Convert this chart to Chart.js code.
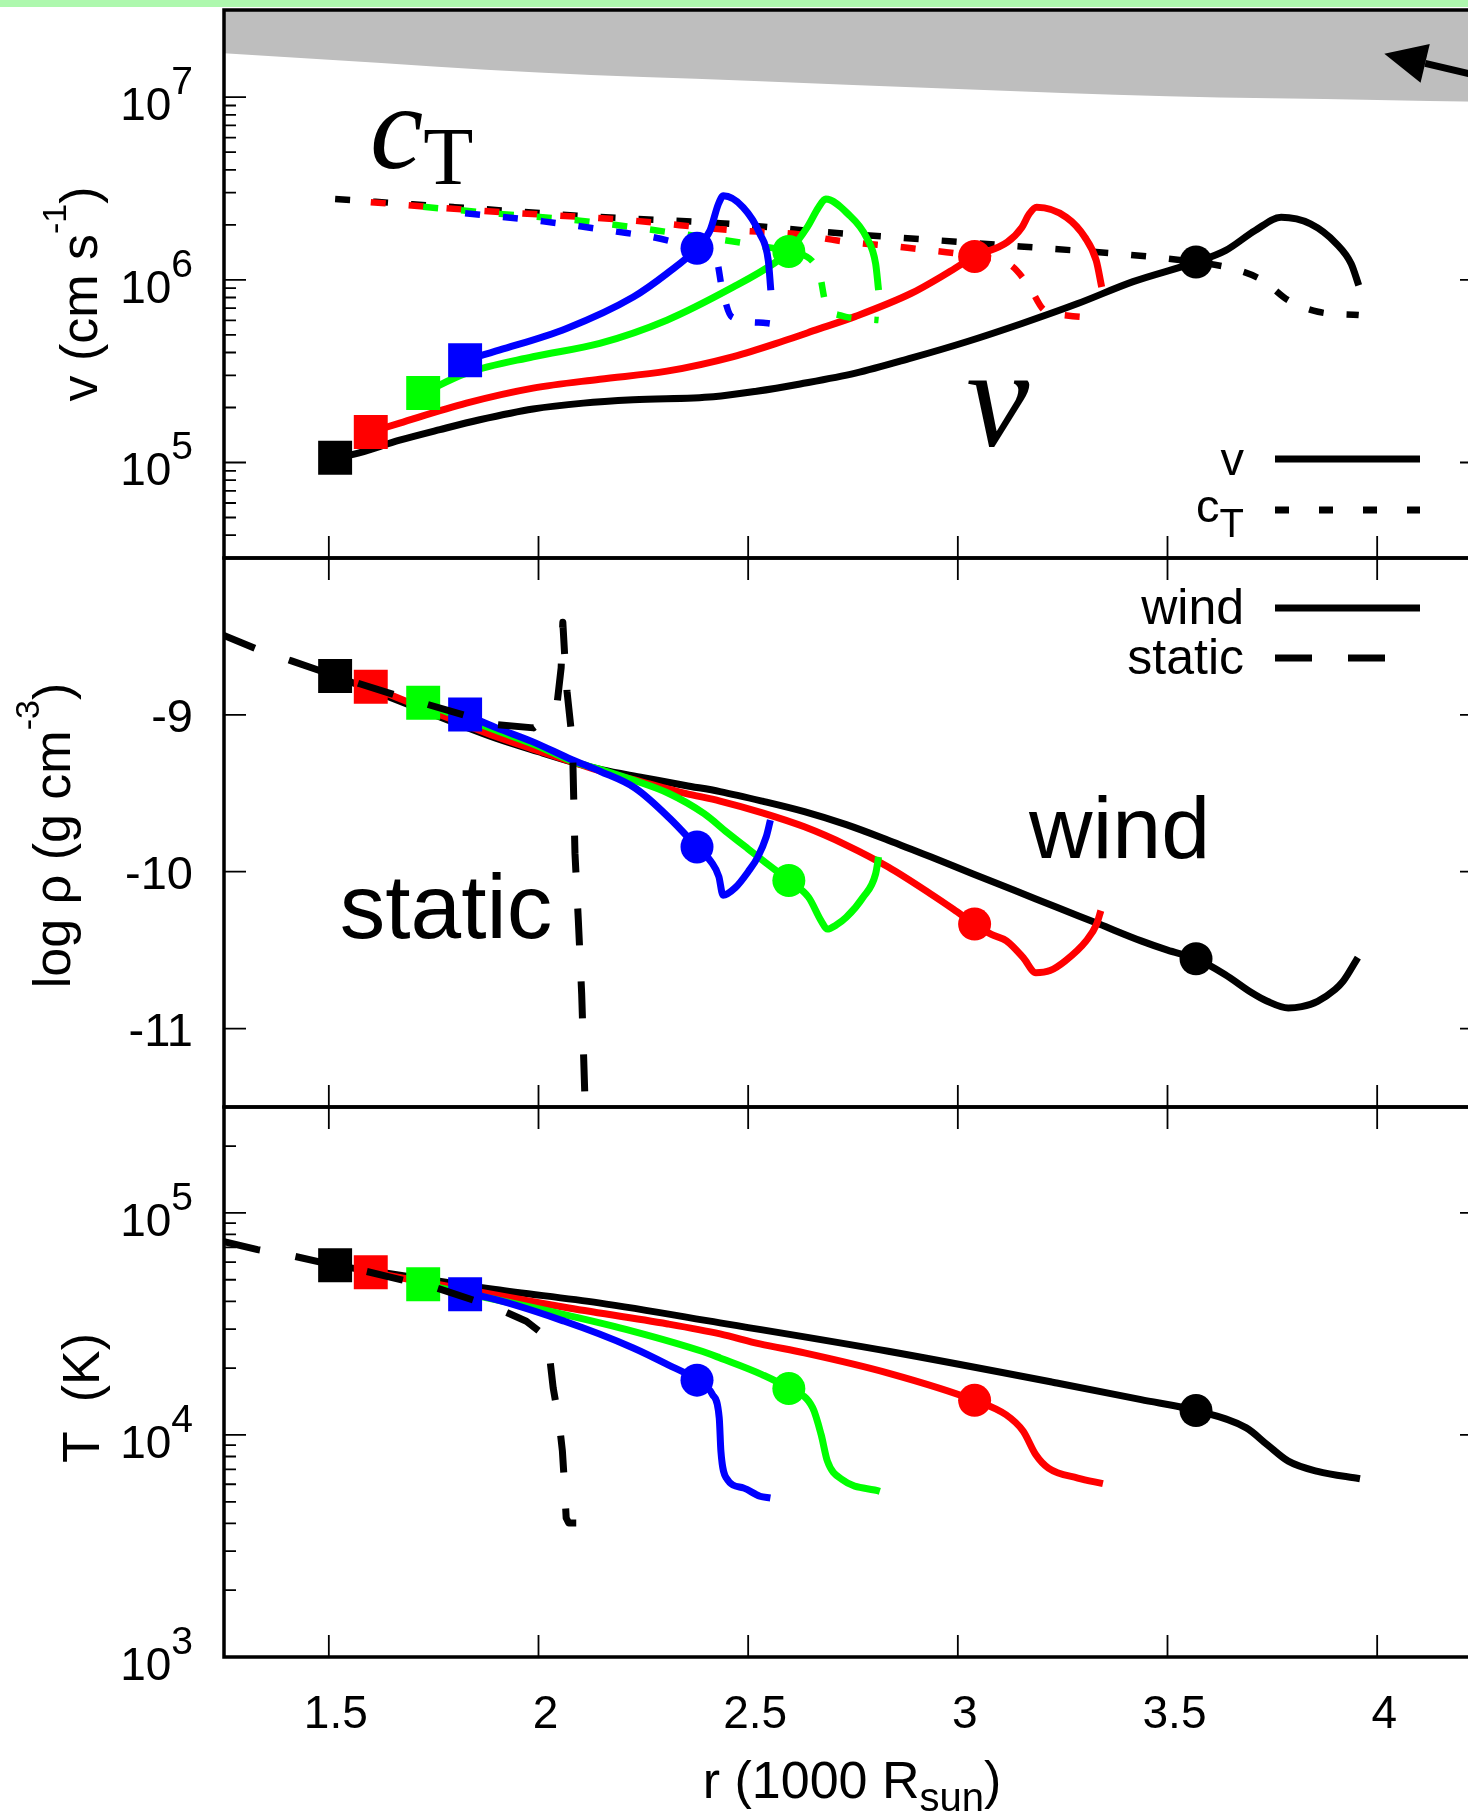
<!DOCTYPE html>
<html>
<head>
<meta charset="utf-8">
<title>Wind and hydrostatic envelope profiles</title>
<script src="https://cdn.jsdelivr.net/npm/chart.js@4.4.1/dist/chart.umd.min.js"></script>
<style>
  html, body { margin: 0; padding: 0; background: #ffffff; overflow: hidden; }
  #page { position: relative; width: 1468px; height: 1813px; overflow: hidden; background: #ffffff; }
  #topbar { position: absolute; left: 0; top: 0; width: 1468px; height: 7px; background: #aef8ae; }
  #page canvas { position: absolute; left: 0; top: 0; }
</style>
</head>
<body>
<div id="page">
  <div id="topbar"></div>
  <canvas id="velChart" width="1490" height="1813"></canvas>
  <canvas id="rhoChart" width="1490" height="1813"></canvas>
  <canvas id="tempChart" width="1490" height="1813"></canvas>
</div>
<script>
// r in units of 1000 R_sun; v, c_T and T are kept as log10 values, rho is already log10
const xTicks = [1.5, 2, 2.5, 3, 3.5, 4];
const xTickLabels = ['1.5', '2', '2.5', '3', '3.5', '4'];
const vTickExp = [5, 6, 7];
const rhoTicks = [-9, -10, -11];
const tTickExp = [3, 4, 5];

// four wind models, always in the order black, red, green, blue
const rInner = [1.515, 1.600, 1.725, 1.825];
const rSonic = [3.568, 3.040, 2.597, 2.378];
const logvInner = [5.026, 5.167, 5.380, 5.560];
const logvSonic = [6.097, 6.128, 6.155, 6.173];
const rhoInner = [-8.752, -8.821, -8.923, -8.998];
const rhoSonic = [-10.555, -10.334, -10.056, -9.842];
const logTInner = [4.764, 4.733, 4.679, 4.634];
const logTSonic = [4.110, 4.156, 4.209, 4.247];

// velocity v(r)
const vBlack = [[1.515,5.026],[1.558,5.044],[1.669,5.122],[1.765,5.180],[1.860,5.234],[1.987,5.293],[2.107,5.325],[2.226,5.343],[2.417,5.360],[2.52,5.39],[2.624,5.43],[2.756,5.489],[2.888,5.571],[3.021,5.661],[3.153,5.761],[3.286,5.870],[3.418,5.990],[3.568,6.097],[3.639,6.161],[3.709,6.270],[3.771,6.342],[3.841,6.306],[3.903,6.197],[3.938,6.088],[3.956,5.970]];
const vRed = [[1.600,5.167],[1.669,5.216],[1.828,5.325],[1.987,5.407],[2.146,5.456],[2.306,5.500],[2.465,5.580],[2.584,5.665],[2.667,5.730],[2.756,5.800],[2.888,5.925],[2.977,6.040],[3.040,6.128],[3.118,6.206],[3.153,6.288],[3.170,6.360],[3.188,6.397],[3.259,6.342],[3.303,6.233],[3.330,6.106],[3.343,5.961]];
const vGreen = [[1.725,5.380],[1.828,5.489],[1.987,5.579],[2.146,5.652],[2.306,5.779],[2.465,5.961],[2.560,6.088],[2.597,6.155],[2.641,6.288],[2.668,6.397],[2.685,6.442],[2.738,6.361],[2.782,6.233],[2.804,6.088],[2.811,5.943]];
const vBlue = [[1.825,5.560],[1.908,5.616],[2.067,5.734],[2.226,5.906],[2.306,6.034],[2.378,6.173],[2.409,6.270],[2.429,6.415],[2.441,6.460],[2.488,6.397],[2.528,6.252],[2.548,6.106],[2.554,5.943]];

// isothermal sound speed c_T(r)
const cBlack = [[1.515,6.442],[1.8,6.398],[2.13,6.346],[2.433,6.31],[2.685,6.261],[2.959,6.215],[3.224,6.170],[3.400,6.139],[3.568,6.097],[3.656,6.061],[3.727,5.997],[3.788,5.888],[3.859,5.825],[3.956,5.807]];
const cRed = [[1.600,6.425],[1.85,6.38],[2.226,6.324],[2.449,6.274],[2.624,6.248],[2.712,6.215],[2.880,6.175],[3.040,6.128],[3.127,6.079],[3.171,5.961],[3.206,5.834],[3.260,5.805],[3.343,5.790]];
const cGreen = [[1.725,6.400],[1.908,6.361],[2.099,6.324],[2.282,6.270],[2.449,6.215],[2.536,6.183],[2.597,6.155],[2.668,6.052],[2.685,5.870],[2.720,5.805],[2.811,5.780]];
const cBlue = [[1.825,6.364],[2.011,6.320],[2.186,6.264],[2.274,6.233],[2.378,6.173],[2.425,6.106],[2.437,5.961],[2.461,5.797],[2.536,5.765],[2.554,5.760]];

// lower edge of the grey band and the arrow in the velocity panel
const greyEdge = [[1.25,7.24],[1.5,7.205],[2.0,7.135],[2.5,7.09],[3.0,7.045],[3.5,7.005],[4.0,6.985],[4.25,6.975]];
const arrowTip = [4.017, 7.238];
const arrowTail = [4.293, 7.088];

// log density
const rhoBlack = [[1.515,-8.752],[1.6,-8.84],[1.7,-8.945],[1.8,-9.05],[1.9,-9.15],[2.0,-9.235],[2.08,-9.30],[2.15,-9.35],[2.25,-9.40],[2.35,-9.45],[2.433,-9.489],[2.534,-9.55],[2.634,-9.617],[2.734,-9.70],[2.834,-9.799],[2.935,-9.905],[3.035,-10.013],[3.136,-10.12],[3.236,-10.227],[3.337,-10.334],[3.437,-10.441],[3.50,-10.50],[3.568,-10.555],[3.637,-10.655],[3.70,-10.77],[3.738,-10.826],[3.788,-10.869],[3.82,-10.86],[3.858,-10.826],[3.90,-10.75],[3.919,-10.698],[3.954,-10.548]];
const rhoRed = [[1.600,-8.821],[1.7,-8.93],[1.8,-9.035],[1.9,-9.14],[2.0,-9.23],[2.08,-9.30],[2.15,-9.36],[2.25,-9.43],[2.35,-9.50],[2.433,-9.55],[2.534,-9.625],[2.634,-9.714],[2.734,-9.83],[2.834,-9.970],[2.935,-10.141],[2.99,-10.24],[3.040,-10.334],[3.08,-10.40],[3.116,-10.441],[3.156,-10.548],[3.186,-10.644],[3.22,-10.63],[3.256,-10.569],[3.306,-10.441],[3.331,-10.334],[3.341,-10.248]];
const rhoGreen = [[1.725,-8.923],[1.8,-9.00],[1.9,-9.10],[2.0,-9.20],[2.08,-9.295],[2.15,-9.35],[2.231,-9.42],[2.31,-9.50],[2.395,-9.63],[2.45,-9.75],[2.50,-9.855],[2.553,-9.965],[2.597,-10.056],[2.644,-10.163],[2.674,-10.313],[2.689,-10.366],[2.71,-10.34],[2.734,-10.291],[2.774,-10.163],[2.804,-10.013],[2.811,-9.906]];
const rhoBlue = [[1.825,-8.998],[1.9,-9.083],[1.984,-9.169],[2.08,-9.286],[2.148,-9.361],[2.231,-9.468],[2.313,-9.66],[2.378,-9.842],[2.412,-9.938],[2.43,-10.03],[2.44,-10.15],[2.47,-10.10],[2.50,-10.00],[2.523,-9.906],[2.543,-9.778],[2.553,-9.671]];
const rhoStatic = [[1.242,-8.485],[1.329,-8.581],[1.411,-8.656],[1.515,-8.752],[1.654,-8.870],[1.901,-9.062],[1.988,-9.083],[2.025,-9.009],[2.045,-8.912],[2.054,-8.70],[2.058,-8.41],[2.062,-8.60],[2.068,-8.85],[2.078,-9.10],[2.082,-9.30],[2.087,-9.885],[2.095,-10.31],[2.103,-10.78],[2.111,-11.47],[2.113,-11.7]];

// log temperature
const tBlack = [[1.515,4.764],[1.897,4.655],[2.144,4.595],[2.433,4.505],[2.834,4.377],[3.236,4.234],[3.437,4.159],[3.568,4.110],[3.688,4.032],[3.738,3.956],[3.788,3.882],[3.858,3.836],[3.959,3.803]];
const tRed = [[1.600,4.733],[2.062,4.575],[2.308,4.500],[2.433,4.455],[2.528,4.410],[2.634,4.370],[2.834,4.279],[3.040,4.156],[3.115,4.091],[3.156,4.017],[3.186,3.911],[3.216,3.851],[3.286,3.806],[3.346,3.781]];
const tGreen = [[1.725,4.679],[2.062,4.542],[2.226,4.467],[2.390,4.377],[2.433,4.347],[2.533,4.272],[2.597,4.209],[2.654,4.122],[2.674,4.002],[2.689,3.882],[2.724,3.799],[2.814,3.746]];
const tBlue = [[1.825,4.634],[1.864,4.625],[2.062,4.512],[2.226,4.392],[2.308,4.317],[2.378,4.247],[2.415,4.182],[2.431,4.077],[2.435,3.927],[2.448,3.806],[2.489,3.761],[2.528,3.724],[2.553,3.716]];
const tStatic = [[1.25,4.871],[1.330,4.835],[1.417,4.805],[1.515,4.764],[1.589,4.737],[1.671,4.700],[1.757,4.662],[1.897,4.575],[1.971,4.512],[2.012,4.452],[2.025,4.377],[2.035,4.212],[2.049,4.062],[2.057,3.927],[2.062,3.776],[2.066,3.626],[2.072,3.604],[2.090,3.604]];

// ---------------------------------------------------------------
const SANS = '"Liberation Sans", Arial, Helvetica, sans-serif';
const SERIF = '"Liberation Serif", "Times New Roman", serif';
const modelColors = ['#000000', '#ff0000', '#00ff00', '#0000ff'];

const CANVAS_H = 1813, CANVAS_W = 1490;
const PLOT_LEFT = 224, PLOT_RIGHT = 1482;
const MAJOR = 22, MINOR = 12;
const TITLE = `52px ${SANS}`, TITLE_SUP = `34px ${SANS}`;

const pow10 = v => Math.pow(10, v);
const same = v => v;
const toPts = (arr, f) => arr.map(([r, y]) => ({ x: r, y: f(y) }));
const markerPts = (rs, ys, f) => rs.map((r, i) => ({ x: r, y: f(ys[i]) }));

function lineSet(points, color, extra) {
  return Object.assign({
    data: points, showLine: true, borderColor: color, backgroundColor: color,
    borderWidth: 7, pointRadius: 0, pointHoverRadius: 0,
    cubicInterpolationMode: 'monotone', fill: false,
    borderJoinStyle: 'round', borderCapStyle: 'butt'
  }, extra || {});
}

function markerSet(points, style, radius) {
  return {
    data: points, showLine: false, pointStyle: style, pointRadius: radius, pointHoverRadius: radius,
    pointBackgroundColor: modelColors, pointBorderColor: modelColors, pointBorderWidth: 0
  };
}

// later entries are painted on top
function paintOrder(list) {
  list.forEach((d, i) => { d.order = list.length - i; });
  return list;
}

// draws text made of differently sized pieces on one baseline
function drawParts(ctx, x, y, parts, align) {
  let total = 0;
  parts.forEach(p => { ctx.font = p.font; p.w = ctx.measureText(p.text).width; total += p.w; });
  let cx = align === 'right' ? x - total : align === 'center' ? x - total / 2 : x;
  ctx.textAlign = 'left';
  ctx.textBaseline = 'alphabetic';
  parts.forEach(p => { ctx.font = p.font; ctx.fillText(p.text, cx, y + (p.dy || 0)); cx += p.w; });
}

function rotatedTitle(ctx, cx, cy, parts) {
  ctx.save();
  ctx.translate(cx, cy);
  ctx.rotate(-Math.PI / 2);
  drawParts(ctx, 0, 0, parts, 'center');
  ctx.restore();
}

function logMinor(lo, hi) {
  const out = [];
  for (let d = Math.floor(Math.log10(lo)); d <= Math.ceil(Math.log10(hi)); d++) {
    for (let m = 2; m <= 9; m++) {
      const v = m * Math.pow(10, d);
      if (v > lo && v < hi) out.push(v);
    }
  }
  return out;
}

// inward ticks on all four sides and the heavy border of a panel
function makeFrame(yMajor, yMinor) {
  return {
    id: 'frame',
    beforeDatasetsDraw(chart) {
      const { ctx, chartArea: a, scales: { x, y } } = chart;
      ctx.save();
      ctx.strokeStyle = '#000';
      ctx.lineWidth = 1.8;
      ctx.beginPath();
      xTicks.forEach(t => {
        const px = x.getPixelForValue(t);
        ctx.moveTo(px, a.top); ctx.lineTo(px, a.top + MAJOR);
        ctx.moveTo(px, a.bottom); ctx.lineTo(px, a.bottom - MAJOR);
      });
      yMajor.forEach(t => {
        const py = y.getPixelForValue(t);
        ctx.moveTo(a.left, py); ctx.lineTo(a.left + MAJOR, py);
        ctx.moveTo(a.right, py); ctx.lineTo(a.right - MAJOR, py);
      });
      yMinor.forEach(t => {
        const py = y.getPixelForValue(t);
        ctx.moveTo(a.left, py); ctx.lineTo(a.left + MINOR, py);
        ctx.moveTo(a.right, py); ctx.lineTo(a.right - MINOR, py);
      });
      ctx.stroke();
      ctx.restore();
    },
    afterDraw(chart) {
      const { ctx, chartArea: a } = chart;
      ctx.save();
      ctx.strokeStyle = '#000';
      ctx.lineWidth = 3.5;
      ctx.strokeRect(a.left, a.top, a.right - a.left, a.bottom - a.top);
      ctx.restore();
    }
  };
}

function powLabels(ctx, a, y, exps) {
  ctx.fillStyle = '#000';
  exps.forEach(e => {
    const py = y.getPixelForValue(pow10(e));
    drawParts(ctx, a.left - 31, py + 23, [
      { text: '10', font: `46px ${SANS}` },
      { text: String(e), font: `39px ${SANS}`, dy: -26 }
    ], 'right');
  });
}

function legendLine(ctx, x0, x1, y, dash) {
  ctx.save();
  ctx.strokeStyle = '#000';
  ctx.lineWidth = 7;
  ctx.lineCap = 'butt';
  ctx.setLineDash(dash);
  ctx.beginPath();
  ctx.moveTo(x0, y); ctx.lineTo(x1, y);
  ctx.stroke();
  ctx.restore();
}

function baseOptions(top, bottom, yScale) {
  return {
    responsive: false,
    animation: false,
    devicePixelRatio: 1,
    events: [],
    layout: {
      autoPadding: false,
      padding: { left: PLOT_LEFT, right: CANVAS_W - PLOT_RIGHT, top: top, bottom: CANVAS_H - bottom }
    },
    plugins: { legend: { display: false }, tooltip: { enabled: false }, title: { display: false } },
    scales: {
      x: { type: 'linear', min: 1.25, max: 4.25, display: false },
      y: Object.assign({ display: false }, yScale)
    }
  };
}

// ---------------- velocity panel ----------------
const velDecor = {
  id: 'velDecor',
  afterDatasetsDraw(chart) {
    const { ctx, scales: { x, y } } = chart;
    // arrow in the upper right corner
    const tx = x.getPixelForValue(arrowTip[0]), ty = y.getPixelForValue(pow10(arrowTip[1]));
    const sx = x.getPixelForValue(arrowTail[0]), sy = y.getPixelForValue(pow10(arrowTail[1]));
    const ang = Math.atan2(ty - sy, tx - sx);
    const hl = 42, hw = 20;
    const bx = tx - hl * Math.cos(ang), by = ty - hl * Math.sin(ang);
    ctx.save();
    ctx.strokeStyle = '#000';
    ctx.fillStyle = '#000';
    ctx.lineWidth = 7;
    ctx.beginPath(); ctx.moveTo(sx, sy); ctx.lineTo(bx, by); ctx.stroke();
    ctx.beginPath();
    ctx.moveTo(tx, ty);
    ctx.lineTo(bx + hw * Math.sin(ang), by - hw * Math.cos(ang));
    ctx.lineTo(bx - hw * Math.sin(ang), by + hw * Math.cos(ang));
    ctx.closePath(); ctx.fill();
    ctx.restore();
  },
  afterDraw(chart) {
    const { ctx, chartArea: a, scales: { x, y } } = chart;
    ctx.save();
    ctx.fillStyle = '#000';
    powLabels(ctx, a, y, vTickExp);
    rotatedTitle(ctx, 97, (a.top + a.bottom) / 2 + 10, [
      { text: 'v (cm s', font: TITLE },
      { text: '-1', font: TITLE_SUP, dy: -31 },
      { text: ')', font: TITLE }
    ]);
    // curve labels
    const cx = x.getPixelForValue(1.598), cy = y.getPixelForValue(pow10(6.613));
    drawParts(ctx, cx, cy, [
      { text: 'c', font: `italic 120px ${SERIF}` },
      { text: 'T', font: `82px ${SERIF}`, dy: 16 }
    ], 'left');
    drawParts(ctx, x.getPixelForValue(3.02), y.getPixelForValue(pow10(5.091)), [
      { text: 'v', font: `italic 142px ${SERIF}` }
    ], 'left');
    // key
    const textRight = a.right - 238;
    const ly1 = a.bottom - 99, ly2 = a.bottom - 48;
    drawParts(ctx, textRight, ly1 + 16, [{ text: 'v', font: `47px ${SANS}` }], 'right');
    drawParts(ctx, textRight, ly2 + 12, [
      { text: 'c', font: `47px ${SANS}` },
      { text: 'T', font: `40px ${SANS}`, dy: 15 }
    ], 'right');
    ctx.restore();
    legendLine(ctx, a.right - 207, a.right - 62, ly1, []);
    legendLine(ctx, a.right - 207, a.right - 62, ly2, [14, 30]);
  }
};

const ctDash = { borderDash: [15, 23], borderWidth: 6.5 };
const velSets = paintOrder([
  lineSet(toPts(greyEdge, pow10), '#bebebe', { fill: 'end', borderWidth: 0, backgroundColor: '#bebebe' }),
  lineSet(toPts(vBlack, pow10), modelColors[0]),
  lineSet(toPts(cBlack, pow10), modelColors[0], ctDash),
  lineSet(toPts(vRed, pow10), modelColors[1]),
  lineSet(toPts(cRed, pow10), modelColors[1], ctDash),
  lineSet(toPts(vGreen, pow10), modelColors[2]),
  lineSet(toPts(cGreen, pow10), modelColors[2], ctDash),
  lineSet(toPts(vBlue, pow10), modelColors[3]),
  lineSet(toPts(cBlue, pow10), modelColors[3], ctDash),
  markerSet(markerPts(rInner, logvInner, pow10), 'rect', 24),
  markerSet(markerPts(rSonic, logvSonic, pow10), 'circle', 16.5)
]);

new Chart(document.getElementById('velChart'), {
  type: 'scatter',
  data: { datasets: velSets },
  options: baseOptions(10, 558, { type: 'logarithmic', min: 3e4, max: 3e7 }),
  plugins: [makeFrame(vTickExp.map(pow10), logMinor(3e4, 3e7)), velDecor]
});

// ---------------- density panel ----------------
const rhoDecor = {
  id: 'rhoDecor',
  afterDraw(chart) {
    const { ctx, chartArea: a, scales: { x, y } } = chart;
    ctx.save();
    ctx.fillStyle = '#000';
    rhoTicks.forEach(t => {
      drawParts(ctx, a.left - 31, y.getPixelForValue(t) + 17, [{ text: String(t), font: `47px ${SANS}` }], 'right');
    });
    rotatedTitle(ctx, 70, (a.top + a.bottom) / 2 + 3, [
      { text: 'log \u03c1 (g cm', font: TITLE },
      { text: '-3', font: TITLE_SUP, dy: -31 },
      { text: ')', font: TITLE }
    ]);
    drawParts(ctx, x.getPixelForValue(1.526), y.getPixelForValue(-10.423), [{ text: 'static', font: `91px ${SANS}` }], 'left');
    drawParts(ctx, x.getPixelForValue(3.170), y.getPixelForValue(-9.913), [{ text: 'wind', font: `88px ${SANS}` }], 'left');
    const textRight = a.right - 238;
    const ly1 = a.top + 50, ly2 = a.top + 100;
    drawParts(ctx, textRight, ly1 + 16, [{ text: 'wind', font: `50px ${SANS}` }], 'right');
    drawParts(ctx, textRight, ly2 + 16, [{ text: 'static', font: `50px ${SANS}` }], 'right');
    ctx.restore();
    legendLine(ctx, a.right - 207, a.right - 62, ly1, []);
    legendLine(ctx, a.right - 207, a.right - 97, ly2, [37, 36]);
  }
};

const staticStyle = { borderDash: [37, 36], cubicInterpolationMode: 'default', tension: 0, borderWidth: 7 };
const rhoSets = paintOrder([
  lineSet(toPts(rhoBlack, same), modelColors[0]),
  lineSet(toPts(rhoRed, same), modelColors[1]),
  lineSet(toPts(rhoGreen, same), modelColors[2]),
  lineSet(toPts(rhoBlue, same), modelColors[3]),
  markerSet(markerPts(rInner, rhoInner, same), 'rect', 24),
  markerSet(markerPts(rSonic, rhoSonic, same), 'circle', 16.5),
  lineSet(toPts(rhoStatic, same), '#000000', staticStyle)
]);

new Chart(document.getElementById('rhoChart'), {
  type: 'scatter',
  data: { datasets: rhoSets },
  options: baseOptions(558, 1107, { type: 'linear', min: -11.5, max: -8 }),
  plugins: [makeFrame(rhoTicks, []), rhoDecor]
});

// ---------------- temperature panel ----------------
const tempDecor = {
  id: 'tempDecor',
  afterDraw(chart) {
    const { ctx, chartArea: a, scales: { x, y } } = chart;
    ctx.save();
    ctx.fillStyle = '#000';
    powLabels(ctx, a, y, tTickExp);
    xTicks.forEach((t, i) => {
      drawParts(ctx, x.getPixelForValue(t) + 7, a.bottom + 71, [{ text: xTickLabels[i], font: `46px ${SANS}` }], 'center');
    });
    rotatedTitle(ctx, 99, (a.top + a.bottom) / 2 + 16, [{ text: 'T  (K)', font: TITLE }]);
    drawParts(ctx, (a.left + a.right) / 2 - 1, a.bottom + 141, [
      { text: 'r (1000 R', font: TITLE },
      { text: 'sun', font: `40px ${SANS}`, dy: 13 },
      { text: ')', font: TITLE }
    ], 'center');
    ctx.restore();
  }
};

const tempSets = paintOrder([
  lineSet(toPts(tBlack, pow10), modelColors[0]),
  lineSet(toPts(tRed, pow10), modelColors[1]),
  lineSet(toPts(tGreen, pow10), modelColors[2]),
  lineSet(toPts(tBlue, pow10), modelColors[3]),
  markerSet(markerPts(rInner, logTInner, pow10), 'rect', 24),
  markerSet(markerPts(rSonic, logTSonic, pow10), 'circle', 16.5),
  lineSet(toPts(tStatic, pow10), '#000000', staticStyle)
]);

new Chart(document.getElementById('tempChart'), {
  type: 'scatter',
  data: { datasets: tempSets },
  options: baseOptions(1107, 1657, { type: 'logarithmic', min: 1e3, max: 3e5 }),
  plugins: [makeFrame(tTickExp.map(pow10), logMinor(1e3, 3e5)), tempDecor]
});
</script>
</body>
</html>
